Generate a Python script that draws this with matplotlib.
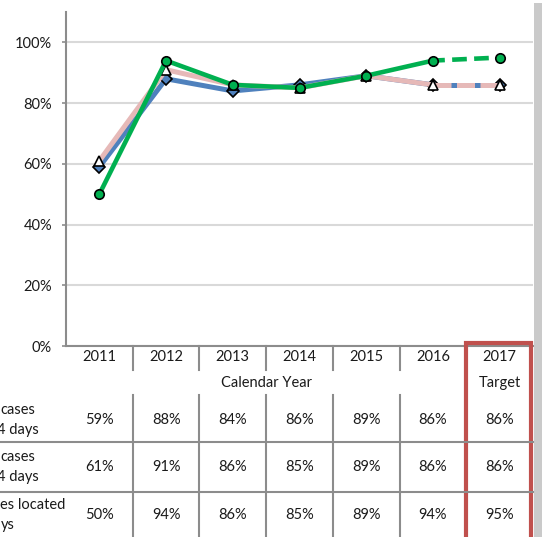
import matplotlib
matplotlib.use('Agg')
import matplotlib.pyplot as plt
import matplotlib.transforms as mtransforms
from matplotlib.patches import Rectangle

# chart data
years = ['2011', '2012', '2013', '2014', '2015', '2016', '2017']
blue_vals = [59, 88, 84, 86, 89, 86, 86]
pink_vals = [61, 91, 86, 85, 89, 86, 86]
green_vals = [50, 94, 86, 85, 89, 94, 95]
row_labels = [('cases', '4 days'), ('cases', '4 days'), ('es located', 'ys')]
y_ticks = [0, 20, 40, 60, 80, 100]

W, H = 542, 537
plt.rcParams['font.family'] = ['Lato', 'DejaVu Sans']
FS = 10.5

fig = plt.figure(figsize=(W / 100, H / 100), dpi=100)
fig.patch.set_facecolor('white')


def fx(p):
    return p / W


def fy(p):
    return 1 - p / H


ax = fig.add_axes([fx(66), fy(346), fx(533) - fx(66), fy(12) - fy(346)])
x = list(range(len(years)))
solid = slice(0, 6)
dash = slice(5, 7)

# blue series (diamonds)
ax.plot(x[solid], blue_vals[solid], color='#4F81BD', lw=3.6, zorder=3)
ax.plot(x[dash], blue_vals[dash], color='#4F81BD', lw=3.6, zorder=3)
ax.plot(x, blue_vals, ls='none', marker='D', ms=6.5, mfc='#4F81BD', mec='black', mew=1.2, zorder=4)

# pink series (triangles)
ax.plot(x[solid], pink_vals[solid], color='#E6B9B8', lw=3.6, zorder=5)
ax.plot(x[dash], pink_vals[dash], color='#E6B9B8', lw=3.6, ls=(0, (3.6, 1.1)), zorder=5)
ax.plot(x, pink_vals, ls='none', marker='^', ms=6.5, mfc='white', mec='black', mew=1.2, zorder=6)

# green series (circles)
ax.plot(x[solid], green_vals[solid], color='#00B050', lw=3.3, zorder=7)
ax.plot(x[dash], green_vals[dash], color='#00B050', lw=3.3, ls=(0.6, (3.2, 1.6)), zorder=7)
ax.plot(x, green_vals, ls='none', marker='o', ms=6.8, mfc='#00B050', mec='black', mew=1.2, zorder=8)

ax.set_xlim(-0.5, 6.5)
ax.set_ylim(0, 110)
ax.set_yticks(y_ticks)
ax.set_yticklabels([f'{v}%' for v in y_ticks], fontsize=FS, color='#1a1a1a')
ax.set_xticks([])
ax.yaxis.grid(True, color='#D9D9D9', lw=1.5)
ax.set_axisbelow(True)
for s in ['top', 'right']:
    ax.spines[s].set_visible(False)
ax.spines['left'].set_color('#8C8C8C')
ax.spines['left'].set_linewidth(1.5)
ax.spines['bottom'].set_color('#8C8C8C')
ax.spines['bottom'].set_linewidth(1.5)
ax.tick_params(axis='y', length=3, width=1.2, color='#8C8C8C', pad=7)

# data table below the axis
tr = mtransforms.blended_transform_factory(ax.transData, fig.transFigure)
grey = '#8C8C8C'
for i, yr in enumerate(years):
    ax.text(i, fy(357), yr, transform=tr, ha='center', va='center', fontsize=FS, color='#1a1a1a')
for b in [0.5, 1.5, 2.5, 3.5, 4.5, 5.5]:
    ax.plot([b, b], [fy(346), fy(370)], transform=tr, color=grey, lw=1.5, clip_on=False)
    ax.plot([b, b], [fy(395), fy(H)], transform=tr, color=grey, lw=1.5, clip_on=False)
ax.text(2.5, fy(383), 'Calendar Year', transform=tr, ha='center', va='center', fontsize=FS, color='#1a1a1a')
ax.text(6, fy(383), 'Target', transform=tr, ha='center', va='center', fontsize=FS, color='#1a1a1a')

for yline in [442, 492]:
    fig.add_artist(plt.Line2D([0, fx(533)], [fy(yline), fy(yline)], color=grey, lw=1.5))

row_y = [420, 467, 515]
for vals, ry in zip([blue_vals, pink_vals, green_vals], row_y):
    for i, v in enumerate(vals):
        ax.text(i, fy(ry), f'{v}%', transform=tr, ha='center', va='center', fontsize=FS, color='#1a1a1a')

# row labels are cut off at the left edge of the picture
label_left = [(0.5, -3), (0.5, -3), (0.5, 0.5)]
for (l1, l2), ry, (p1, p2) in zip(row_labels, row_y, label_left):
    fig.text(fx(p1), fy(ry - 10), l1, ha='left', va='center', fontsize=FS, color='#1a1a1a')
    fig.text(fx(p2), fy(ry + 10), l2, ha='left', va='center', fontsize=FS, color='#1a1a1a')

# red box around the target column
fig.add_artist(Rectangle((fx(466), fy(H + 5)), fx(531) - fx(466), fy(343) - fy(H + 5),
                         fill=False, edgecolor='#C0504D', lw=3, transform=fig.transFigure))

# grey shadow on the right edge
fig.add_artist(Rectangle((fx(534), 0), fx(W) - fx(534), fy(3), facecolor='#CACACA',
                         edgecolor='none', transform=fig.transFigure))

fig.savefig('out.png', dpi=100)
